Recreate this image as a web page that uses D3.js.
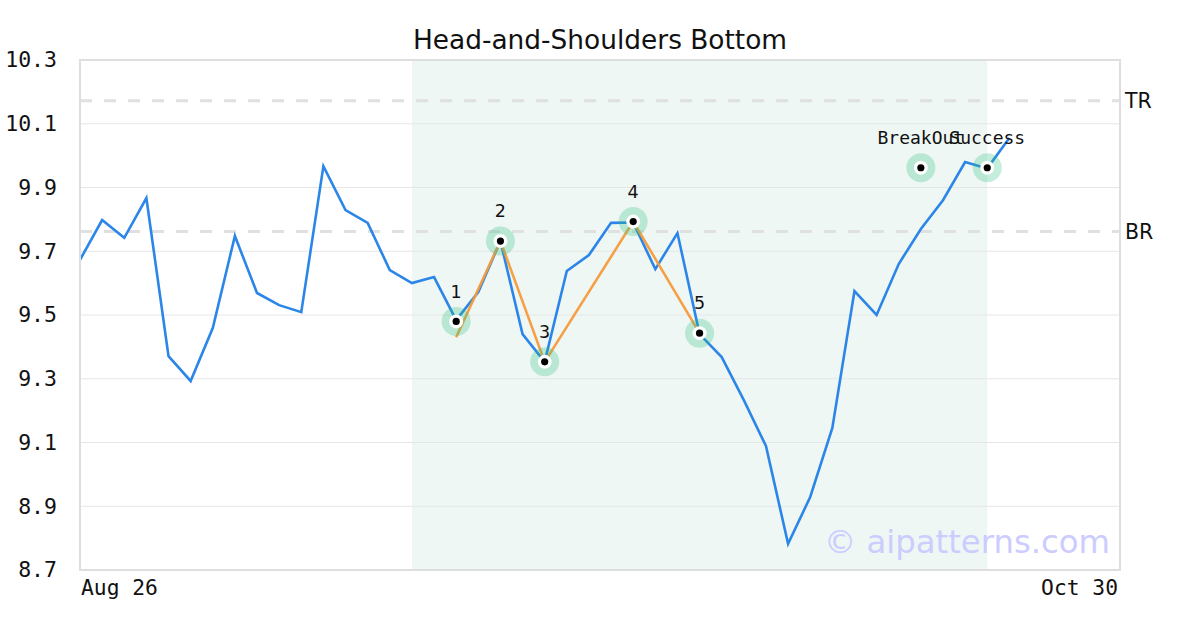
<!DOCTYPE html>
<html>
<head>
<meta charset="utf-8">
<script src="https://cdn.jsdelivr.net/npm/d3@7"></script>
<style>
  html, body { margin: 0; padding: 0; background: #fff; }
  svg { display: block; }
</style>
</head>
<body>
<svg id="chart" width="1200" height="630"></svg>
<script>
// price series, one value per trading day (index based)
var prices = [
  9.673, 9.798, 9.742, 9.867, 9.371, 9.293, 9.459, 9.748, 9.569, 9.531,
  9.509, 9.967, 9.829, 9.789, 9.641, 9.600, 9.619, 9.484, 9.572, 9.732,
  9.440, 9.353, 9.638, 9.688, 9.789, 9.790, 9.644, 9.757, 9.440, 9.368,
  9.233, 9.089, 8.782, 8.929, 9.146, 9.575, 9.500, 9.660, 9.770, 9.860,
  9.980, 9.960, 10.055
]
var totalDays = 47
var xTickIdx = [0, 47]
var xTickLabels = ['Aug 26', 'Oct 30']
var yTicks = [8.7, 8.9, 9.1, 9.3, 9.5, 9.7, 9.9, 10.1, 10.3]

// pattern pivots: index, marker value, orange line value, label
var pivotIdx = [17, 19, 21, 25, 28]
var pivotVal = [9.48, 9.732, 9.353, 9.793, 9.443]
var pivotLineVal = [9.43, 9.732, 9.353, 9.793, 9.443]
var pivotLabels = ['1', '2', '3', '4', '5']

// breakout / success markers
var signalIdx = [38, 41]
var signalVal = [9.962, 9.962]
var signalLabels = ['BreakOut', 'Success']

var shadeRange = [15, 41]
var levelNames = ['TR', 'BR']
var levelValues = [10.172, 9.762]

var margin = { left: 80, right: 80, top: 60, bottom: 60 }
var width = 1200, height = 630

var svg = d3.select('#chart')
var x = d3.scaleLinear().domain([0, totalDays]).range([margin.left, width - margin.right])
var y = d3.scaleLinear().domain([8.7, 10.3]).range([height - margin.bottom, margin.top])

var mono = '"DejaVu Sans Mono", monospace'
var sans = '"DejaVu Sans", sans-serif'

// shaded pattern zone
svg.append('rect')
  .attr('x', x(shadeRange[0]))
  .attr('y', y(10.3))
  .attr('width', x(shadeRange[1]) - x(shadeRange[0]))
  .attr('height', y(8.7) - y(10.3))
  .attr('fill', '#eff7f4')

// grid
svg.append('g')
  .selectAll('line')
  .data(yTicks)
  .join('line')
  .attr('x1', x(0)).attr('x2', x(totalDays))
  .attr('y1', function (d) { return y(d) })
  .attr('y2', function (d) { return y(d) })
  .attr('stroke', '#e6e6e6')
  .attr('stroke-width', 1)

// y axis labels
var yAxis = d3.axisLeft(y).tickValues(yTicks).tickSize(0).tickPadding(23)
  .tickFormat(d3.format('.1f'))
svg.append('g')
  .attr('transform', 'translate(' + margin.left + ',0)')
  .call(yAxis)
  .call(function (g) { g.select('.domain').remove() })
  .selectAll('text')
  .attr('font-family', mono)
  .attr('font-size', 21.5)
  .attr('fill', '#111')

// x axis labels
svg.append('g')
  .selectAll('text')
  .data(xTickIdx)
  .join('text')
  .attr('x', function (d, i) { return i === 0 ? x(d) + 1 : x(d) - 2 })
  .attr('y', 595)
  .attr('text-anchor', function (d, i) { return i === 0 ? 'start' : 'end' })
  .attr('font-family', mono)
  .attr('font-size', 21.3)
  .attr('fill', '#111')
  .text(function (d, i) { return xTickLabels[i] })

// level lines
svg.append('g')
  .selectAll('line')
  .data(levelValues)
  .join('line')
  .attr('x1', x(0)).attr('x2', x(totalDays))
  .attr('y1', function (d) { return y(d) })
  .attr('y2', function (d) { return y(d) })
  .attr('stroke', '#e0e0e0')
  .attr('stroke-width', 3)
  .attr('stroke-dasharray', '12,12')

svg.append('g')
  .selectAll('text')
  .data(levelValues)
  .join('text')
  .attr('x', x(totalDays) + 5)
  .attr('y', function (d) { return y(d) })
  .attr('dy', '0.36em')
  .attr('font-family', sans)
  .attr('font-size', 20.5)
  .attr('fill', '#111')
  .text(function (d, i) { return levelNames[i] })

// watermark
svg.append('text')
  .attr('x', 1110)
  .attr('y', 553)
  .attr('text-anchor', 'end')
  .attr('font-family', sans)
  .attr('font-size', 32.3)
  .attr('fill', '#ccccff')
  .text('\u00a9 aipatterns.com')

// price line
var line = d3.line()
  .x(function (d, i) { return x(i) })
  .y(function (d) { return y(d) })

svg.append('path')
  .datum(prices)
  .attr('d', line)
  .attr('fill', 'none')
  .attr('stroke', '#2b86e8')
  .attr('stroke-width', 2.6)
  .attr('stroke-linejoin', 'miter')

// pattern line
var patternLine = d3.line()
  .x(function (d) { return x(d[0]) })
  .y(function (d) { return y(d[1]) })

svg.append('path')
  .datum(pivotIdx.map(function (d, i) { return [d, pivotLineVal[i]] }))
  .attr('d', patternLine)
  .attr('fill', 'none')
  .attr('stroke', '#f59b3c')
  .attr('stroke-width', 2.6)
  .attr('opacity', 0.95)

// markers
function drawMarkers (idx, vals, labels, font, size) {
  var g = svg.append('g')
  var pts = idx.map(function (d, i) { return { i: d, v: vals[i], label: labels[i] } })
  g.selectAll('circle.halo')
    .data(pts)
    .join('circle')
    .attr('class', 'halo')
    .attr('cx', function (d) { return x(d.i) })
    .attr('cy', function (d) { return y(d.v) })
    .attr('r', 14.5)
    .attr('fill', '#2bbf7f')
    .attr('fill-opacity', 0.28)
  g.selectAll('circle.inner')
    .data(pts)
    .join('circle')
    .attr('class', 'inner')
    .attr('cx', function (d) { return x(d.i) })
    .attr('cy', function (d) { return y(d.v) })
    .attr('r', 7)
    .attr('fill', '#fff')
  g.selectAll('circle.dot')
    .data(pts)
    .join('circle')
    .attr('class', 'dot')
    .attr('cx', function (d) { return x(d.i) })
    .attr('cy', function (d) { return y(d.v) })
    .attr('r', 3.6)
    .attr('fill', '#000')
  g.selectAll('text')
    .data(pts)
    .join('text')
    .attr('x', function (d) { return x(d.i) })
    .attr('y', function (d) { return y(d.v) - 30 })
    .attr('dy', '0.36em')
    .attr('text-anchor', 'middle')
    .attr('font-family', font)
    .attr('font-size', size)
    .attr('fill', '#111')
    .text(function (d) { return d.label })
}

drawMarkers(pivotIdx, pivotVal, pivotLabels, sans, 17.5)
drawMarkers(signalIdx, signalVal, signalLabels, mono, 18)

// frame
svg.append('rect')
  .attr('x', x(0))
  .attr('y', y(10.3))
  .attr('width', x(totalDays) - x(0))
  .attr('height', y(8.7) - y(10.3))
  .attr('fill', 'none')
  .attr('stroke', '#dedede')
  .attr('stroke-width', 2)

// title
svg.append('text')
  .attr('x', width / 2)
  .attr('y', 49)
  .attr('text-anchor', 'middle')
  .attr('font-family', sans)
  .attr('font-size', 26.4)
  .attr('fill', '#111')
  .text('Head-and-Shoulders Bottom')
</script>
</body>
</html>
